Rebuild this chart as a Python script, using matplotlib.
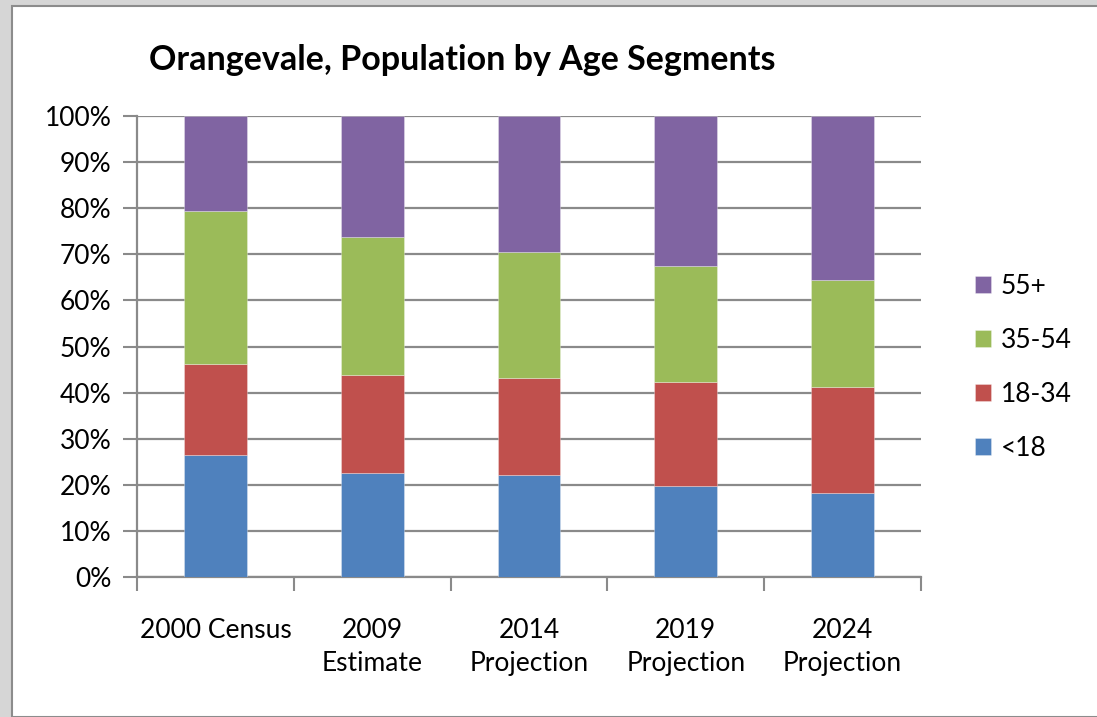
import numpy as np
import matplotlib.pyplot as plt
from matplotlib.patches import Rectangle

plt.rcParams['font.family'] = ['Lato', 'DejaVu Sans']

# data (percent of population)
categories = ['2000 Census', '2009\nEstimate', '2014\nProjection', '2019\nProjection', '2024\nProjection']
segments = ['<18', '18-34', '35-54', '55+']
under18 = [26.5, 22.6, 22.1, 19.7, 18.2]
age18_34 = [19.7, 21.2, 21.1, 22.7, 23.1]
age35_54 = [33.2, 30.0, 27.2, 25.1, 23.1]
age55plus = [20.6, 26.2, 29.6, 32.5, 35.6]
colors = ['#4F81BD', '#C0504D', '#9BBB59', '#8064A2']

fig = plt.figure(figsize=(10.97, 7.17), dpi=100)
fig.patch.set_facecolor('#d6d6d6')
# white chart area with grey frame
fig.add_artist(Rectangle((12 / 1097, 0), 1.0, 1 - 6 / 717, transform=fig.transFigure,
                         facecolor='white', edgecolor='#8c8c8c', linewidth=1.5, zorder=0))

ax = fig.add_axes([137 / 1097, 1 - 577 / 717, (921 - 137) / 1097, (577 - 116) / 717])
ax.set_facecolor('white')

x = np.arange(len(categories))
series = [under18, age18_34, age35_54, age55plus]
bottom = np.zeros(len(categories))
handles = []
for vals, col, lab in zip(series, colors, segments):
    vals = np.array(vals)
    b = ax.bar(x, vals, 0.4, bottom=bottom, color=col, label=lab, zorder=3,
               edgecolor=(1, 1, 1, 0.35), linewidth=0.6)
    handles.append(b)
    bottom += vals

ax.set_xlim(-0.5, len(categories) - 0.5)
ax.set_ylim(0, 100)
ax.set_yticks(np.arange(0, 101, 10))
ax.set_yticklabels([f'{v}%' for v in range(0, 101, 10)], fontsize=19)
ax.yaxis.grid(True, color='#8a8a8a', linewidth=1.6, zorder=0)
ax.tick_params(axis='y', length=10, width=1.5, color='#8a8a8a', pad=8.5)

# x ticks at category boundaries, labels at centers
ax.set_xticks(np.arange(-0.5, len(categories)))
ax.set_xticklabels([''] * (len(categories) + 1))
ax.tick_params(axis='x', length=10, width=1.5, color='#8a8a8a')
for xi, lab in zip(x, categories):
    ax.text(xi, -8.8, lab, ha='center', va='top', fontsize=19, linespacing=1.4)

for s in ['top', 'right']:
    ax.spines[s].set_visible(False)
for s in ['left', 'bottom']:
    ax.spines[s].set_color('#8a8a8a')
    ax.spines[s].set_linewidth(1.6)

fig.text(462 / 1097, 1 - 60 / 717, 'Orangevale, Population by Age Segments',
         ha='center', va='center', fontsize=24.5, fontweight='bold')

leg = ax.legend(handles[::-1], segments[::-1], loc='center left',
                bbox_to_anchor=(1.039, 0.455), frameon=False, fontsize=19,
                handlelength=0.6, handleheight=0.6, labelspacing=1.1, handletextpad=0.35)

fig.savefig('out.png', dpi=100, facecolor=fig.get_facecolor())
